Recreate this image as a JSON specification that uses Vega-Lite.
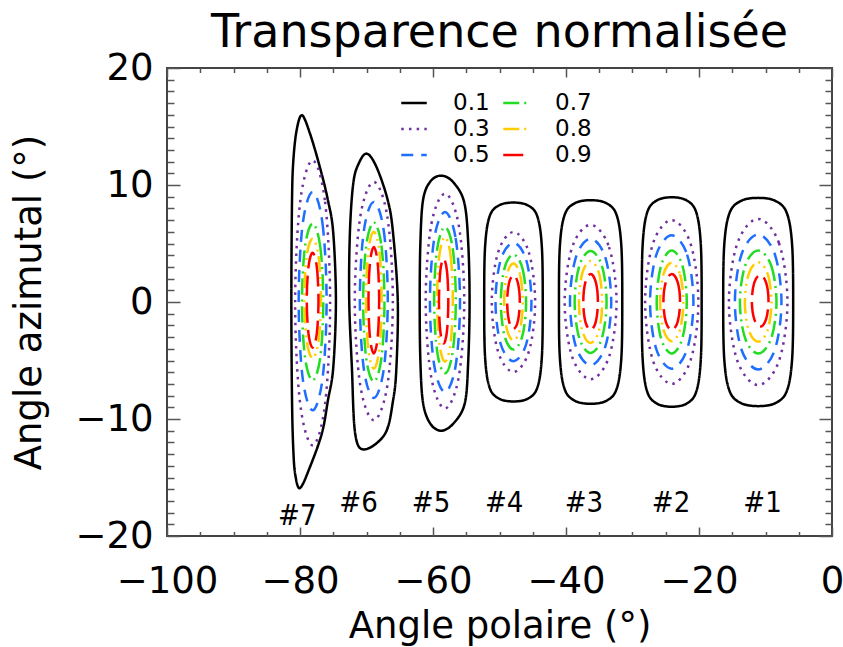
{
  "$schema": "https://vega.github.io/schema/vega-lite/v6.json",
  "width": 665,
  "height": 468,
  "autosize": {"type": "none"},
  "padding": {"left": 167, "top": 68, "right": 11, "bottom": 111},
  "background": "white",
  "title": {"text": "Transparence normalisée", "fontSize": 46, "font": "DejaVu Sans", "fontWeight": "normal", "color": "black", "anchor": "middle", "baseline": "alphabetic", "offset": -44},
  "config": {
    "view": {"stroke": "#444", "strokeWidth": 2},
    "axis": {"domain": false, "grid": false, "tickColor": "#555", "tickWidth": 1.5, "labelFont": "DejaVu Sans", "titleFont": "DejaVu Sans", "labelColor": "black", "titleColor": "black", "titleFontWeight": "normal", "labelOverlap": false, "labelFlush": false}
  },
  "resolve": {"axis": {"x": "independent", "y": "independent"}},
  "layer": [
    {
      "data": {"values": [
        {"g":"7","l":"0.1","x":-79.7,"y":15.96},{"g":"7","l":"0.1","x":-78.5,"y":14.4},{"g":"7","l":"0.1","x":-77.0,"y":11.5},{"g":"7","l":"0.1","x":-75.8,"y":8.7},{"g":"7","l":"0.1","x":-75.0,"y":5.9},{"g":"7","l":"0.1","x":-74.6,"y":0.1},{"g":"7","l":"0.1","x":-75.0,"y":-5.6},{"g":"7","l":"0.1","x":-75.8,"y":-8.4},{"g":"7","l":"0.1","x":-76.7,"y":-11.2},{"g":"7","l":"0.1","x":-78.5,"y":-14.1},{"g":"7","l":"0.1","x":-80.0,"y":-15.9},{"g":"7","l":"0.1","x":-80.7,"y":-14.8},{"g":"7","l":"0.1","x":-81.0,"y":-12.7},{"g":"7","l":"0.1","x":-81.2,"y":-8.4},{"g":"7","l":"0.1","x":-81.3,"y":0.1},{"g":"7","l":"0.1","x":-81.2,"y":8.7},{"g":"7","l":"0.1","x":-81.0,"y":12.1},{"g":"7","l":"0.1","x":-80.5,"y":14.7},
        {"g":"6","l":"0.1","x":-69.97,"y":12.68},{"g":"6","l":"0.1","x":-68.5,"y":11.54},{"g":"6","l":"0.1","x":-66.8,"y":8.69},{"g":"6","l":"0.1","x":-66.0,"y":5.85},{"g":"6","l":"0.1","x":-65.3,"y":0.15},{"g":"6","l":"0.1","x":-65.5,"y":-5.56},{"g":"6","l":"0.1","x":-66.0,"y":-8.4},{"g":"6","l":"0.1","x":-67.2,"y":-11.25},{"g":"6","l":"0.1","x":-70.3,"y":-12.6},{"g":"6","l":"0.1","x":-71.7,"y":-11.25},{"g":"6","l":"0.1","x":-72.2,"y":-5.56},{"g":"6","l":"0.1","x":-72.6,"y":0.15},{"g":"6","l":"0.1","x":-72.5,"y":5.85},{"g":"6","l":"0.1","x":-72.0,"y":10.1},{"g":"6","l":"0.1","x":-71.2,"y":11.8},
        {"g":"5","l":"0.1","x":-58.7,"y":10.8},{"g":"5","l":"0.1","x":-56.9,"y":10.2},{"g":"5","l":"0.1","x":-55.3,"y":8.5},{"g":"5","l":"0.1","x":-54.7,"y":5},{"g":"5","l":"0.1","x":-54.5,"y":0},{"g":"5","l":"0.1","x":-54.7,"y":-5},{"g":"5","l":"0.1","x":-55.2,"y":-8.6},{"g":"5","l":"0.1","x":-56.8,"y":-10.3},{"g":"5","l":"0.1","x":-58.7,"y":-11.0},{"g":"5","l":"0.1","x":-60.4,"y":-10.4},{"g":"5","l":"0.1","x":-61.5,"y":-8.6},{"g":"5","l":"0.1","x":-61.9,"y":-5},{"g":"5","l":"0.1","x":-62.0,"y":0},{"g":"5","l":"0.1","x":-61.9,"y":5},{"g":"5","l":"0.1","x":-61.5,"y":8.7},{"g":"5","l":"0.1","x":-60.4,"y":10.3},
        {"g":"4","l":"0.1","x":-47.9,"y":8.5},{"g":"4","l":"0.1","x":-45.7,"y":8.25},{"g":"4","l":"0.1","x":-44.3,"y":7.3},{"g":"4","l":"0.1","x":-43.63,"y":4.7},{"g":"4","l":"0.1","x":-43.5,"y":0},{"g":"4","l":"0.1","x":-43.63,"y":-4.7},{"g":"4","l":"0.1","x":-44.3,"y":-7.3},{"g":"4","l":"0.1","x":-45.7,"y":-8.25},{"g":"4","l":"0.1","x":-47.9,"y":-8.5},{"g":"4","l":"0.1","x":-50.1,"y":-8.25},{"g":"4","l":"0.1","x":-51.5,"y":-7.3},{"g":"4","l":"0.1","x":-52.17,"y":-4.7},{"g":"4","l":"0.1","x":-52.3,"y":0},{"g":"4","l":"0.1","x":-52.17,"y":4.7},{"g":"4","l":"0.1","x":-51.5,"y":7.3},{"g":"4","l":"0.1","x":-50.1,"y":8.25},
        {"g":"3","l":"0.1","x":-36.3,"y":8.7},{"g":"3","l":"0.1","x":-33.92,"y":8.44},{"g":"3","l":"0.1","x":-32.4,"y":7.45},{"g":"3","l":"0.1","x":-31.68,"y":4.8},{"g":"3","l":"0.1","x":-31.54,"y":0},{"g":"3","l":"0.1","x":-31.68,"y":-4.8},{"g":"3","l":"0.1","x":-32.4,"y":-7.45},{"g":"3","l":"0.1","x":-33.92,"y":-8.44},{"g":"3","l":"0.1","x":-36.3,"y":-8.7},{"g":"3","l":"0.1","x":-38.68,"y":-8.44},{"g":"3","l":"0.1","x":-40.2,"y":-7.45},{"g":"3","l":"0.1","x":-40.92,"y":-4.8},{"g":"3","l":"0.1","x":-41.06,"y":0},{"g":"3","l":"0.1","x":-40.92,"y":4.8},{"g":"3","l":"0.1","x":-40.2,"y":7.45},{"g":"3","l":"0.1","x":-38.68,"y":8.44},
        {"g":"2","l":"0.1","x":-24.1,"y":8.95},{"g":"2","l":"0.1","x":-21.85,"y":8.68},{"g":"2","l":"0.1","x":-20.41,"y":7.66},{"g":"2","l":"0.1","x":-19.73,"y":4.93},{"g":"2","l":"0.1","x":-19.6,"y":0},{"g":"2","l":"0.1","x":-19.73,"y":-4.93},{"g":"2","l":"0.1","x":-20.41,"y":-7.66},{"g":"2","l":"0.1","x":-21.85,"y":-8.68},{"g":"2","l":"0.1","x":-24.1,"y":-8.95},{"g":"2","l":"0.1","x":-26.35,"y":-8.68},{"g":"2","l":"0.1","x":-27.79,"y":-7.66},{"g":"2","l":"0.1","x":-28.47,"y":-4.93},{"g":"2","l":"0.1","x":-28.6,"y":0},{"g":"2","l":"0.1","x":-28.47,"y":4.93},{"g":"2","l":"0.1","x":-27.79,"y":7.66},{"g":"2","l":"0.1","x":-26.35,"y":8.68},
        {"g":"1","l":"0.1","x":-11.1,"y":8.9},{"g":"1","l":"0.1","x":-8.47,"y":8.63},{"g":"1","l":"0.1","x":-6.79,"y":7.6},{"g":"1","l":"0.1","x":-6.0,"y":4.9},{"g":"1","l":"0.1","x":-5.84,"y":0},{"g":"1","l":"0.1","x":-6.0,"y":-4.9},{"g":"1","l":"0.1","x":-6.79,"y":-7.6},{"g":"1","l":"0.1","x":-8.47,"y":-8.63},{"g":"1","l":"0.1","x":-11.1,"y":-8.9},{"g":"1","l":"0.1","x":-13.73,"y":-8.63},{"g":"1","l":"0.1","x":-15.41,"y":-7.6},{"g":"1","l":"0.1","x":-16.2,"y":-4.9},{"g":"1","l":"0.1","x":-16.36,"y":0},{"g":"1","l":"0.1","x":-16.2,"y":4.9},{"g":"1","l":"0.1","x":-15.41,"y":7.6},{"g":"1","l":"0.1","x":-13.73,"y":8.63},

        {"g":"7","l":"0.3","x":-78.1,"y":12.1},{"g":"7","l":"0.3","x":-76.23,"y":8.57},{"g":"7","l":"0.3","x":-75.47,"y":-0.08},{"g":"7","l":"0.3","x":-76.23,"y":-8.72},{"g":"7","l":"0.3","x":-78.1,"y":-12.25},{"g":"7","l":"0.3","x":-79.97,"y":-8.72},{"g":"7","l":"0.3","x":-80.73,"y":-0.08},{"g":"7","l":"0.3","x":-79.97,"y":8.57},
        {"g":"7","l":"0.5","x":-78.1,"y":9.4},{"g":"7","l":"0.5","x":-76.61,"y":6.69},{"g":"7","l":"0.5","x":-76.0,"y":0.07},{"g":"7","l":"0.5","x":-76.61,"y":-6.55},{"g":"7","l":"0.5","x":-78.1,"y":-9.26},{"g":"7","l":"0.5","x":-79.59,"y":-6.55},{"g":"7","l":"0.5","x":-80.2,"y":0.07},{"g":"7","l":"0.5","x":-79.59,"y":6.69},
        {"g":"7","l":"0.7","x":-78.1,"y":6.7},{"g":"7","l":"0.7","x":-76.96,"y":4.76},{"g":"7","l":"0.7","x":-76.5,"y":0},{"g":"7","l":"0.7","x":-76.96,"y":-4.76},{"g":"7","l":"0.7","x":-78.1,"y":-6.7},{"g":"7","l":"0.7","x":-79.24,"y":-4.76},{"g":"7","l":"0.7","x":-79.7,"y":0},{"g":"7","l":"0.7","x":-79.24,"y":4.76},
        {"g":"7","l":"0.8","x":-78.1,"y":5.4},{"g":"7","l":"0.8","x":-77.21,"y":3.92},{"g":"7","l":"0.8","x":-76.85,"y":0.3},{"g":"7","l":"0.8","x":-77.21,"y":-3.32},{"g":"7","l":"0.8","x":-78.1,"y":-4.8},{"g":"7","l":"0.8","x":-78.99,"y":-3.32},{"g":"7","l":"0.8","x":-79.35,"y":0.3},{"g":"7","l":"0.8","x":-78.99,"y":3.92},
        {"g":"7","l":"0.9","x":-78.1,"y":4.2},{"g":"7","l":"0.9","x":-77.48,"y":3.03},{"g":"7","l":"0.9","x":-77.22,"y":0.15},{"g":"7","l":"0.9","x":-77.48,"y":-2.73},{"g":"7","l":"0.9","x":-78.1,"y":-3.9},{"g":"7","l":"0.9","x":-78.72,"y":-2.73},{"g":"7","l":"0.9","x":-78.98,"y":0.15},{"g":"7","l":"0.9","x":-78.72,"y":3.03},

        {"g":"6","l":"0.3","x":-68.9,"y":10.26},{"g":"6","l":"0.3","x":-66.87,"y":7.31},{"g":"6","l":"0.3","x":-66.04,"y":0.08},{"g":"6","l":"0.3","x":-66.87,"y":-7.15},{"g":"6","l":"0.3","x":-68.9,"y":-10.1},{"g":"6","l":"0.3","x":-70.93,"y":-7.15},{"g":"6","l":"0.3","x":-71.76,"y":0.08},{"g":"6","l":"0.3","x":-70.93,"y":7.31},
        {"g":"6","l":"0.5","x":-68.9,"y":8.55},{"g":"6","l":"0.5","x":-67.41,"y":6.12},{"g":"6","l":"0.5","x":-66.8,"y":0.18},{"g":"6","l":"0.5","x":-67.41,"y":-5.77},{"g":"6","l":"0.5","x":-68.9,"y":-8.2},{"g":"6","l":"0.5","x":-70.39,"y":-5.77},{"g":"6","l":"0.5","x":-71.0,"y":0.18},{"g":"6","l":"0.5","x":-70.39,"y":6.12},
        {"g":"6","l":"0.7","x":-68.9,"y":6.8},{"g":"6","l":"0.7","x":-67.76,"y":4.83},{"g":"6","l":"0.7","x":-67.3,"y":0},{"g":"6","l":"0.7","x":-67.76,"y":-4.83},{"g":"6","l":"0.7","x":-68.9,"y":-6.8},{"g":"6","l":"0.7","x":-70.04,"y":-4.83},{"g":"6","l":"0.7","x":-70.5,"y":0},{"g":"6","l":"0.7","x":-70.04,"y":4.83},
        {"g":"6","l":"0.8","x":-68.9,"y":6.0},{"g":"6","l":"0.8","x":-68.06,"y":4.3},{"g":"6","l":"0.8","x":-67.72,"y":0.15},{"g":"6","l":"0.8","x":-68.06,"y":-4.0},{"g":"6","l":"0.8","x":-68.9,"y":-5.7},{"g":"6","l":"0.8","x":-69.74,"y":-4.0},{"g":"6","l":"0.8","x":-70.08,"y":0.15},{"g":"6","l":"0.8","x":-69.74,"y":4.3},
        {"g":"6","l":"0.9","x":-68.9,"y":4.7},{"g":"6","l":"0.9","x":-68.33,"y":3.38},{"g":"6","l":"0.9","x":-68.1,"y":0.15},{"g":"6","l":"0.9","x":-68.33,"y":-3.08},{"g":"6","l":"0.9","x":-68.9,"y":-4.4},{"g":"6","l":"0.9","x":-69.47,"y":-3.08},{"g":"6","l":"0.9","x":-69.7,"y":0.15},{"g":"6","l":"0.9","x":-69.47,"y":3.38},

        {"g":"5","l":"0.3","x":-58.2,"y":9.26},{"g":"5","l":"0.3","x":-56.14,"y":6.6},{"g":"5","l":"0.3","x":-55.3,"y":0.08},{"g":"5","l":"0.3","x":-56.14,"y":-6.44},{"g":"5","l":"0.3","x":-58.2,"y":-9.1},{"g":"5","l":"0.3","x":-60.26,"y":-6.44},{"g":"5","l":"0.3","x":-61.1,"y":0.08},{"g":"5","l":"0.3","x":-60.26,"y":6.6},
        {"g":"5","l":"0.5","x":-58.2,"y":7.7},{"g":"5","l":"0.5","x":-56.6,"y":5.47},{"g":"5","l":"0.5","x":-55.94,"y":0},{"g":"5","l":"0.5","x":-56.6,"y":-5.47},{"g":"5","l":"0.5","x":-58.2,"y":-7.7},{"g":"5","l":"0.5","x":-59.8,"y":-5.47},{"g":"5","l":"0.5","x":-60.46,"y":0},{"g":"5","l":"0.5","x":-59.8,"y":5.47},
        {"g":"5","l":"0.7","x":-58.2,"y":6.4},{"g":"5","l":"0.7","x":-57.04,"y":4.59},{"g":"5","l":"0.7","x":-56.57,"y":0.15},{"g":"5","l":"0.7","x":-57.04,"y":-4.29},{"g":"5","l":"0.7","x":-58.2,"y":-6.1},{"g":"5","l":"0.7","x":-59.36,"y":-4.29},{"g":"5","l":"0.7","x":-59.83,"y":0.15},{"g":"5","l":"0.7","x":-59.36,"y":4.59},
        {"g":"5","l":"0.8","x":-58.2,"y":5.55},{"g":"5","l":"0.8","x":-57.36,"y":4.0},{"g":"5","l":"0.8","x":-57.02,"y":0.23},{"g":"5","l":"0.8","x":-57.36,"y":-3.56},{"g":"5","l":"0.8","x":-58.2,"y":-5.1},{"g":"5","l":"0.8","x":-59.04,"y":-3.56},{"g":"5","l":"0.8","x":-59.38,"y":0.23},{"g":"5","l":"0.8","x":-59.04,"y":4.0},
        {"g":"5","l":"0.9","x":-58.4,"y":3.7},{"g":"5","l":"0.9","x":-57.9,"y":2.65},{"g":"5","l":"0.9","x":-57.7,"y":0.08},{"g":"5","l":"0.9","x":-57.9,"y":-2.5},{"g":"5","l":"0.9","x":-58.4,"y":-3.55},{"g":"5","l":"0.9","x":-58.9,"y":-2.5},{"g":"5","l":"0.9","x":-59.1,"y":0.08},{"g":"5","l":"0.9","x":-58.9,"y":2.65},

        {"g":"4","l":"0.3","x":-47.9,"y":5.98},{"g":"4","l":"0.3","x":-45.59,"y":4.25},{"g":"4","l":"0.3","x":-44.64,"y":0},{"g":"4","l":"0.3","x":-45.59,"y":-4.25},{"g":"4","l":"0.3","x":-47.9,"y":-5.98},{"g":"4","l":"0.3","x":-50.21,"y":-4.25},{"g":"4","l":"0.3","x":-51.16,"y":0},{"g":"4","l":"0.3","x":-50.21,"y":4.25},
        {"g":"4","l":"0.5","x":-47.9,"y":5.06},{"g":"4","l":"0.5","x":-45.98,"y":3.59},{"g":"4","l":"0.5","x":-45.2,"y":0},{"g":"4","l":"0.5","x":-45.98,"y":-3.59},{"g":"4","l":"0.5","x":-47.9,"y":-5.06},{"g":"4","l":"0.5","x":-49.82,"y":-3.59},{"g":"4","l":"0.5","x":-50.6,"y":0},{"g":"4","l":"0.5","x":-49.82,"y":3.59},
        {"g":"4","l":"0.7","x":-47.9,"y":4.06},{"g":"4","l":"0.7","x":-46.55,"y":2.88},{"g":"4","l":"0.7","x":-46.0,"y":0},{"g":"4","l":"0.7","x":-46.55,"y":-2.88},{"g":"4","l":"0.7","x":-47.9,"y":-4.06},{"g":"4","l":"0.7","x":-49.25,"y":-2.88},{"g":"4","l":"0.7","x":-49.8,"y":0},{"g":"4","l":"0.7","x":-49.25,"y":2.88},
        {"g":"4","l":"0.8","x":-47.9,"y":3.28},{"g":"4","l":"0.8","x":-46.91,"y":2.33},{"g":"4","l":"0.8","x":-46.5,"y":0},{"g":"4","l":"0.8","x":-46.91,"y":-2.33},{"g":"4","l":"0.8","x":-47.9,"y":-3.28},{"g":"4","l":"0.8","x":-48.89,"y":-2.33},{"g":"4","l":"0.8","x":-49.3,"y":0},{"g":"4","l":"0.8","x":-48.89,"y":2.33},
        {"g":"4","l":"0.9","x":-47.9,"y":2.28},{"g":"4","l":"0.9","x":-47.23,"y":1.62},{"g":"4","l":"0.9","x":-46.95,"y":0},{"g":"4","l":"0.9","x":-47.23,"y":-1.62},{"g":"4","l":"0.9","x":-47.9,"y":-2.28},{"g":"4","l":"0.9","x":-48.57,"y":-1.62},{"g":"4","l":"0.9","x":-48.85,"y":0},{"g":"4","l":"0.9","x":-48.57,"y":1.62},

        {"g":"3","l":"0.3","x":-36.3,"y":6.6},{"g":"3","l":"0.3","x":-33.53,"y":4.69},{"g":"3","l":"0.3","x":-32.4,"y":0},{"g":"3","l":"0.3","x":-33.53,"y":-4.69},{"g":"3","l":"0.3","x":-36.3,"y":-6.6},{"g":"3","l":"0.3","x":-39.07,"y":-4.69},{"g":"3","l":"0.3","x":-40.2,"y":0},{"g":"3","l":"0.3","x":-39.07,"y":4.69},
        {"g":"3","l":"0.5","x":-36.3,"y":5.4},{"g":"3","l":"0.5","x":-34.1,"y":3.83},{"g":"3","l":"0.5","x":-33.2,"y":0},{"g":"3","l":"0.5","x":-34.1,"y":-3.83},{"g":"3","l":"0.5","x":-36.3,"y":-5.4},{"g":"3","l":"0.5","x":-38.5,"y":-3.83},{"g":"3","l":"0.5","x":-39.4,"y":0},{"g":"3","l":"0.5","x":-38.5,"y":3.83},
        {"g":"3","l":"0.7","x":-36.3,"y":4.35},{"g":"3","l":"0.7","x":-34.6,"y":3.09},{"g":"3","l":"0.7","x":-33.9,"y":0},{"g":"3","l":"0.7","x":-34.6,"y":-3.09},{"g":"3","l":"0.7","x":-36.3,"y":-4.35},{"g":"3","l":"0.7","x":-38.0,"y":-3.09},{"g":"3","l":"0.7","x":-38.7,"y":0},{"g":"3","l":"0.7","x":-38.0,"y":3.09},
        {"g":"3","l":"0.8","x":-36.3,"y":3.5},{"g":"3","l":"0.8","x":-35.06,"y":2.49},{"g":"3","l":"0.8","x":-34.55,"y":0},{"g":"3","l":"0.8","x":-35.06,"y":-2.49},{"g":"3","l":"0.8","x":-36.3,"y":-3.5},{"g":"3","l":"0.8","x":-37.54,"y":-2.49},{"g":"3","l":"0.8","x":-38.05,"y":0},{"g":"3","l":"0.8","x":-37.54,"y":2.49},
        {"g":"3","l":"0.9","x":-36.3,"y":2.4},{"g":"3","l":"0.9","x":-35.52,"y":1.7},{"g":"3","l":"0.9","x":-35.2,"y":0},{"g":"3","l":"0.9","x":-35.52,"y":-1.7},{"g":"3","l":"0.9","x":-36.3,"y":-2.4},{"g":"3","l":"0.9","x":-37.08,"y":-1.7},{"g":"3","l":"0.9","x":-37.4,"y":0},{"g":"3","l":"0.9","x":-37.08,"y":1.7},

        {"g":"2","l":"0.3","x":-24.1,"y":7.0},{"g":"2","l":"0.3","x":-21.26,"y":4.97},{"g":"2","l":"0.3","x":-20.1,"y":0},{"g":"2","l":"0.3","x":-21.26,"y":-4.97},{"g":"2","l":"0.3","x":-24.1,"y":-7.0},{"g":"2","l":"0.3","x":-26.94,"y":-4.97},{"g":"2","l":"0.3","x":-28.1,"y":0},{"g":"2","l":"0.3","x":-26.94,"y":4.97},
        {"g":"2","l":"0.5","x":-24.1,"y":5.7},{"g":"2","l":"0.5","x":-21.79,"y":4.05},{"g":"2","l":"0.5","x":-20.84,"y":0},{"g":"2","l":"0.5","x":-21.79,"y":-4.05},{"g":"2","l":"0.5","x":-24.1,"y":-5.7},{"g":"2","l":"0.5","x":-26.41,"y":-4.05},{"g":"2","l":"0.5","x":-27.36,"y":0},{"g":"2","l":"0.5","x":-26.41,"y":4.05},
        {"g":"2","l":"0.7","x":-24.1,"y":4.4},{"g":"2","l":"0.7","x":-22.5,"y":3.12},{"g":"2","l":"0.7","x":-21.84,"y":0},{"g":"2","l":"0.7","x":-22.5,"y":-3.12},{"g":"2","l":"0.7","x":-24.1,"y":-4.4},{"g":"2","l":"0.7","x":-25.7,"y":-3.12},{"g":"2","l":"0.7","x":-26.36,"y":0},{"g":"2","l":"0.7","x":-25.7,"y":3.12},
        {"g":"2","l":"0.8","x":-24.1,"y":3.35},{"g":"2","l":"0.8","x":-22.86,"y":2.38},{"g":"2","l":"0.8","x":-22.35,"y":0},{"g":"2","l":"0.8","x":-22.86,"y":-2.38},{"g":"2","l":"0.8","x":-24.1,"y":-3.35},{"g":"2","l":"0.8","x":-25.34,"y":-2.38},{"g":"2","l":"0.8","x":-25.85,"y":0},{"g":"2","l":"0.8","x":-25.34,"y":2.38},
        {"g":"2","l":"0.9","x":-24.1,"y":2.4},{"g":"2","l":"0.9","x":-23.21,"y":1.7},{"g":"2","l":"0.9","x":-22.85,"y":0},{"g":"2","l":"0.9","x":-23.21,"y":-1.7},{"g":"2","l":"0.9","x":-24.1,"y":-2.4},{"g":"2","l":"0.9","x":-24.99,"y":-1.7},{"g":"2","l":"0.9","x":-25.35,"y":0},{"g":"2","l":"0.9","x":-24.99,"y":1.7},

        {"g":"1","l":"0.3","x":-11.1,"y":7.1},{"g":"1","l":"0.3","x":-7.98,"y":5.04},{"g":"1","l":"0.3","x":-6.7,"y":0},{"g":"1","l":"0.3","x":-7.98,"y":-5.04},{"g":"1","l":"0.3","x":-11.1,"y":-7.1},{"g":"1","l":"0.3","x":-14.22,"y":-5.04},{"g":"1","l":"0.3","x":-15.5,"y":0},{"g":"1","l":"0.3","x":-14.22,"y":5.04},
        {"g":"1","l":"0.5","x":-11.1,"y":5.77},{"g":"1","l":"0.5","x":-8.61,"y":4.1},{"g":"1","l":"0.5","x":-7.6,"y":0},{"g":"1","l":"0.5","x":-8.61,"y":-4.1},{"g":"1","l":"0.5","x":-11.1,"y":-5.77},{"g":"1","l":"0.5","x":-13.59,"y":-4.1},{"g":"1","l":"0.5","x":-14.6,"y":0},{"g":"1","l":"0.5","x":-13.59,"y":4.1},
        {"g":"1","l":"0.7","x":-11.1,"y":4.4},{"g":"1","l":"0.7","x":-9.15,"y":3.12},{"g":"1","l":"0.7","x":-8.35,"y":0},{"g":"1","l":"0.7","x":-9.15,"y":-3.12},{"g":"1","l":"0.7","x":-11.1,"y":-4.4},{"g":"1","l":"0.7","x":-13.05,"y":-3.12},{"g":"1","l":"0.7","x":-13.85,"y":0},{"g":"1","l":"0.7","x":-13.05,"y":3.12},
        {"g":"1","l":"0.8","x":-11.1,"y":3.4},{"g":"1","l":"0.8","x":-9.68,"y":2.41},{"g":"1","l":"0.8","x":-9.1,"y":0},{"g":"1","l":"0.8","x":-9.68,"y":-2.41},{"g":"1","l":"0.8","x":-11.1,"y":-3.4},{"g":"1","l":"0.8","x":-12.52,"y":-2.41},{"g":"1","l":"0.8","x":-13.1,"y":0},{"g":"1","l":"0.8","x":-12.52,"y":2.41},
        {"g":"1","l":"0.9","x":-10.8,"y":2.3},{"g":"1","l":"0.9","x":-9.91,"y":1.66},{"g":"1","l":"0.9","x":-9.55,"y":0.1},{"g":"1","l":"0.9","x":-9.91,"y":-1.46},{"g":"1","l":"0.9","x":-10.8,"y":-2.1},{"g":"1","l":"0.9","x":-11.69,"y":-1.46},{"g":"1","l":"0.9","x":-12.05,"y":0.1},{"g":"1","l":"0.9","x":-11.69,"y":1.66}
      ]},
      "mark": {"type": "line", "interpolate": "cardinal-closed", "clip": true},
      "encoding": {
        "x": {"field": "x", "type": "quantitative", "scale": {"domain": [-100, 0], "nice": false, "zero": false},
          "axis": {"orient": "bottom", "values": [-100,-95,-90,-85,-80,-75,-70,-65,-60,-55,-50,-45,-40,-35,-30,-25,-20,-15,-10,-5,0],
            "labelExpr": "datum.value % 20 === 0 ? datum.label : ''",
            "tickSize": {"condition": {"test": "datum.value % 20 === 0", "value": -9}, "value": -4.5},
            "labelPadding": 36, "labelFontSize": 37, "title": "Angle polaire (°)", "titleFontSize": 37, "titlePadding": 5}},
        "y": {"field": "y", "type": "quantitative", "scale": {"domain": [-20, 20], "nice": false, "zero": false},
          "axis": {"orient": "left", "values": [-20,-19,-18,-17,-16,-15,-14,-13,-12,-11,-10,-9,-8,-7,-6,-5,-4,-3,-2,-1,0,1,2,3,4,5,6,7,8,9,10,11,12,13,14,15,16,17,18,19,20],
            "labelExpr": "datum.value % 10 === 0 ? datum.label : ''",
            "tickSize": {"condition": {"test": "datum.value % 10 === 0", "value": -13}, "value": -7},
            "labelPadding": 27, "labelFontSize": 37, "title": "Angle azimutal (°)", "titleFontSize": 37, "titlePadding": 26}},
        "detail": {"field": "g", "type": "nominal"},
        "order": {"value": null},
        "color": {"field": "l", "type": "nominal",
          "scale": {"domain": ["0.1","0.3","0.5","0.7","0.8","0.9"], "range": ["#000000","#7030A0","#1F6FFF","#22DD22","#FFCC00","#FF0000"]},
          "legend": {"orient": "none", "legendX": 233, "legendY": 21, "columns": 2, "direction": "vertical", "symbolType": "stroke", "symbolSize": 650, "labelFontSize": 23, "labelFont": "DejaVu Sans", "labelColor": "black", "title": null, "rowPadding": 0, "columnPadding": 8, "labelOffset": 25, "padding": 0}},
        "strokeDash": {"field": "l", "type": "nominal",
          "scale": {"domain": ["0.1","0.3","0.5","0.7","0.8","0.9"], "range": [[1,0],[2.5,5.2],[12,8],[16,5,2,5],[16,5,2,5,2,5],[20,7]]}},
        "strokeWidth": {"field": "l", "type": "nominal",
          "scale": {"domain": ["0.1","0.3","0.5","0.7","0.8","0.9"], "range": [2.5,2.5,2.5,2.5,2.5,3.5]}}
      }
    },
    {
      "data": {"values": [
        {"t":"#7","x":-80.4,"y":-18.3},{"t":"#6","x":-71.2,"y":-17.2},{"t":"#5","x":-60.3,"y":-17.2},{"t":"#4","x":-49.3,"y":-17.2},{"t":"#3","x":-37.3,"y":-17.2},{"t":"#2","x":-24.2,"y":-17.2},{"t":"#1","x":-10.45,"y":-17.2}
      ]},
      "mark": {"type": "text", "font": "DejaVu Sans Condensed", "fontSize": 29, "color": "black", "baseline": "middle", "align": "center"},
      "encoding": {
        "text": {"field": "t"},
        "x": {"field": "x", "type": "quantitative", "scale": {"domain": [-100, 0], "nice": false, "zero": false},
          "axis": {"orient": "top", "values": [-100,-95,-90,-85,-80,-75,-70,-65,-60,-55,-50,-45,-40,-35,-30,-25,-20,-15,-10,-5,0],
            "labels": false, "title": null,
            "tickSize": {"condition": {"test": "datum.value % 20 === 0", "value": -9}, "value": -4.5}}},
        "y": {"field": "y", "type": "quantitative", "scale": {"domain": [-20, 20], "nice": false, "zero": false},
          "axis": {"orient": "right", "values": [-20,-19,-18,-17,-16,-15,-14,-13,-12,-11,-10,-9,-8,-7,-6,-5,-4,-3,-2,-1,0,1,2,3,4,5,6,7,8,9,10,11,12,13,14,15,16,17,18,19,20],
            "labels": false, "title": null,
            "tickSize": {"condition": {"test": "datum.value % 10 === 0", "value": -13}, "value": -7}}}
      }
    }
  ]
}
